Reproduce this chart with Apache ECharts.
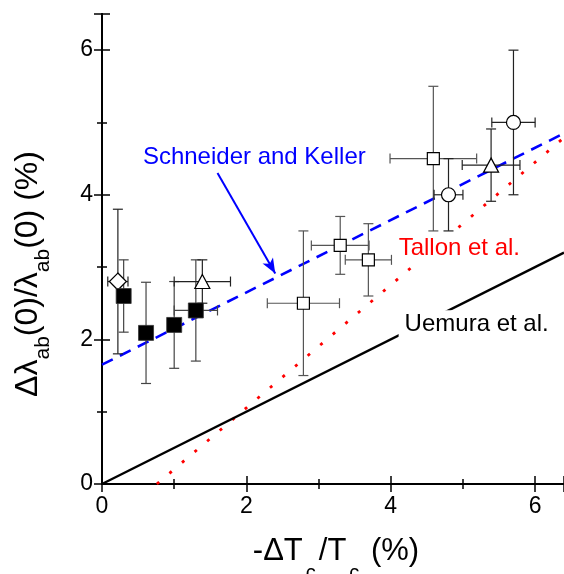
<!DOCTYPE html>
<html>
<head>
<meta charset="utf-8">
<script src="https://cdn.jsdelivr.net/npm/echarts@6/dist/echarts.min.js"></script>
<style>
  html, body { margin: 0; padding: 0; background: #fff; }
  #chart { width: 564px; height: 574px; }
</style>
</head>
<body>
<div id="chart"></div>
<script>
// x: -ΔTc/Tc (%), y: Δλab(0)/λab(0) (%); symmetric error half-widths per point
const filledSquareX    = [0.30, 0.61, 1.00, 1.30];
const filledSquareY    = [2.60, 2.09, 2.20, 2.40];
const filledSquareXErr = [0.00, 0.00, 0.00, 0.30];
const filledSquareYErr = [0.50, 0.70, 0.60, 0.70];

const openSquareX    = [2.79, 3.30, 3.69, 4.59];
const openSquareY    = [2.50, 3.30, 3.10, 4.50];
const openSquareXErr = [0.50, 0.40, 0.32, 0.60];
const openSquareYErr = [1.00, 0.40, 0.50, 1.00];

const circleX    = [4.80, 5.70];
const circleY    = [4.00, 5.00];
const circleXErr = [0.20, 0.30];
const circleYErr = [0.50, 1.00];

const triangleX    = [1.39, 5.39];
const triangleY    = [2.80, 4.41];
const triangleXErr = [0.39, 0.40];
const triangleYErr = [0.30, 0.50];

const diamondX    = [0.22];
const diamondY    = [2.80];
const diamondXErr = [0.14];
const diamondYErr = [1.00];

// Model lines (end points)
const schneiderKellerLine = [[0, 1.65], [6.4, 4.85]];
const tallonLine          = [[0.76, 0], [6.4, 4.79]];
const uemuraLine          = [[0, 0], [6.4, 3.2]];

// Axis ranges and labelled ticks
const xRange = [0, 6.4];
const yRange = [0, 6.5];
const tickLabels = [0, 2, 4, 6];

const FONT = '"Liberation Sans", Arial, Helvetica, sans-serif';

function zipPoints(xs, ys, xe, ye) {
  return xs.map((x, i) => [x, ys[i], xe[i], ye[i]]);
}

function errorBarItem(params, api) {
  const x = api.value(0), y = api.value(1);
  const dx = api.value(2), dy = api.value(3);
  const c = api.coord([x, y]);
  const cap = 5;
  const style = { stroke: api.visual('color'), lineWidth: 1.2 };
  const kids = [];
  if (dy > 0) {
    const t = api.coord([x, y + dy])[1];
    const b = api.coord([x, y - dy])[1];
    kids.push({ type: 'line', shape: { x1: c[0], y1: t, x2: c[0], y2: b }, style });
    kids.push({ type: 'line', shape: { x1: c[0] - cap, y1: t, x2: c[0] + cap, y2: t }, style });
    kids.push({ type: 'line', shape: { x1: c[0] - cap, y1: b, x2: c[0] + cap, y2: b }, style });
  }
  if (dx > 0) {
    const l = api.coord([x - dx, y])[0];
    const r = api.coord([x + dx, y])[0];
    kids.push({ type: 'line', shape: { x1: l, y1: c[1], x2: r, y2: c[1] }, style });
    kids.push({ type: 'line', shape: { x1: l, y1: c[1] - cap, x2: l, y2: c[1] + cap }, style });
    kids.push({ type: 'line', shape: { x1: r, y1: c[1] - cap, x2: r, y2: c[1] + cap }, style });
  }
  return { type: 'group', children: kids };
}

function errorSeries(points, color) {
  return {
    type: 'custom', renderItem: errorBarItem, data: points,
    encode: { x: 0, y: 1 }, itemStyle: { color }, z: 3, silent: true
  };
}

function markerSeries(points, symbol, size, filled) {
  return {
    type: 'scatter', data: points.map(p => [p[0], p[1]]),
    symbol, symbolSize: size, z: 4, silent: true,
    itemStyle: {
      color: filled ? '#000' : '#fff',
      borderColor: filled ? '#333' : '#000', borderWidth: filled ? 0.8 : 1.2, opacity: 1
    }
  };
}

function modelLine(points, color, width, dash) {
  return {
    type: 'line', data: points, showSymbol: false, symbol: 'none', z: 2, silent: true,
    lineStyle: { color, width, type: dash, cap: 'butt' }
  };
}

const annotations = [
  { text: 'Schneider and Keller', x: 2.11, y: 4.52, color: '#0000ff', bg: false },
  { text: 'Tallon et al.',        x: 4.95, y: 3.26, color: '#ff0000', bg: true },
  { text: 'Uemura et al.',        x: 5.19, y: 2.21, color: '#000000', bg: true }
];

const filledSquares = zipPoints(filledSquareX, filledSquareY, filledSquareXErr, filledSquareYErr);
const openSquares   = zipPoints(openSquareX, openSquareY, openSquareXErr, openSquareYErr);
const circles       = zipPoints(circleX, circleY, circleXErr, circleYErr);
const triangles     = zipPoints(triangleX, triangleY, triangleXErr, triangleYErr);
const diamonds      = zipPoints(diamondX, diamondY, diamondXErr, diamondYErr);

const evenLabel = v => (tickLabels.indexOf(Math.round(v * 1000) / 1000) >= 0 ? String(v) : '');

function frameAxis(kind, position, interval, tickLen, showLabel, showLine) {
  const range = kind === 'x' ? xRange : yRange;
  return {
    type: 'value', position, min: range[0], max: range[1], interval,
    axisLine: { show: showLine, lineStyle: { color: '#000', width: 2 } },
    axisTick: { show: true, inside: true, length: tickLen, lineStyle: { color: '#000', width: 1.5 } },
    axisLabel: {
      show: showLabel, formatter: evenLabel, margin: kind === 'x' ? 11 : 9,
      color: '#000', fontSize: 23, fontFamily: FONT
    },
    splitLine: { show: false }
  };
}

const xMain = frameAxis('x', 'bottom', 2, 8, true, true);
xMain.name = '{m|-\u0394T}{s|c}{m|/T}{s|c}{m| (%)}';
xMain.nameLocation = 'middle';
xMain.nameGap = 52;
xMain.nameTextStyle = {
  color: '#000', fontFamily: FONT, padding: [0, 0, 0, 6],
  rich: {
    m: { fontSize: 31, lineHeight: 32, verticalAlign: 'top', fontFamily: FONT, color: '#000' },
    s: { fontSize: 20, lineHeight: 10, verticalAlign: 'top', padding: [27, 3, 0, 3], fontFamily: FONT, color: '#000' }
  }
};

const yMain = frameAxis('y', 'left', 2, 8, true, true);
yMain.name = '{m|\u0394\u03bb}{s|ab}{m|(0)/\u03bb}{s|ab}{m|(0) (%)}';
yMain.nameLocation = 'middle';
yMain.nameGap = 58;
yMain.nameTextStyle = {
  color: '#000', fontFamily: FONT, padding: [0, 50, 0, 0],
  rich: {
    m: { fontSize: 32, lineHeight: 32, verticalAlign: 'top', fontFamily: FONT, color: '#000' },
    s: { fontSize: 21, lineHeight: 10, verticalAlign: 'top', padding: [21, 0, 0, 0], fontFamily: FONT, color: '#000' }
  }
};

const chart = echarts.init(document.getElementById('chart'), null, { renderer: 'canvas' });

chart.setOption({
  backgroundColor: '#fff',
  animation: false,
  grid: { left: 102, right: 0, top: 14, bottom: 90, containLabel: false, outerBoundsMode: 'none' },
  xAxis: [
    xMain,
    frameAxis('x', 'bottom', 1, 5, false, false),
    frameAxis('x', 'top', 2, 8, false, true),
    frameAxis('x', 'top', 1, 5, false, false)
  ],
  yAxis: [
    yMain,
    frameAxis('y', 'left', 1, 5, false, false),
    frameAxis('y', 'right', 2, 8, false, true),
    frameAxis('y', 'right', 1, 5, false, false)
  ],
  series: [
    Object.assign(modelLine(schneiderKellerLine, '#0000ff', 2.6, [12, 8]), {
      markLine: {
        silent: true, symbol: ['none', 'arrow'], symbolSize: [9, 15],
        label: { show: false },
        lineStyle: { color: '#0000ff', width: 2, type: 'solid' },
        data: [[{ coord: [1.60, 4.30] }, { coord: [2.40, 2.91] }]]
      }
    }),
    modelLine(tallonLine, '#ff0000', 2.8, [3, 13.5]),
    modelLine(uemuraLine, '#000000', 2.4, 'solid'),

    errorSeries(diamonds, '#222'),
    errorSeries(filledSquares, '#444'),
    errorSeries(triangles, '#222'),
    errorSeries(openSquares, '#555'),
    errorSeries(circles, '#222'),

    markerSeries(diamonds, 'diamond', [17, 17], false),
    markerSeries(filledSquares, 'rect', 15, true),
    markerSeries(triangles, 'triangle', [15, 14], false),
    markerSeries(openSquares, 'rect', 12, false),
    markerSeries(circles, 'circle', 14, false),

    {
      type: 'custom', z: 6, silent: true,
      data: annotations.map(a => [a.x, a.y]),
      encode: { x: 0, y: 1 },
      renderItem: (params, api) => {
        const a = annotations[params.dataIndex];
        const p = api.coord([api.value(0), api.value(1)]);
        return {
          type: 'text', x: p[0], y: p[1],
          style: {
            text: a.text, fill: a.color, font: '24px ' + FONT,
            align: 'center', verticalAlign: 'middle',
            backgroundColor: a.bg ? '#fff' : 'transparent', padding: [2, 6]
          }
        };
      }
    }
  ]
});
</script>
</body>
</html>
